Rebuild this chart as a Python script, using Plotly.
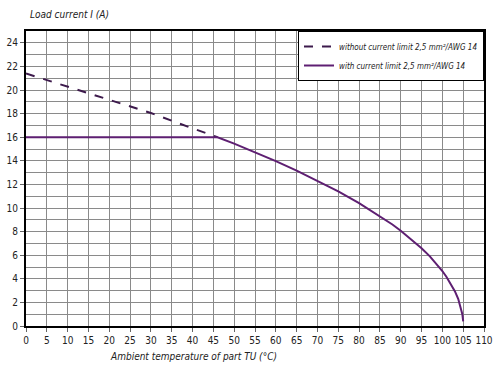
import plotly.graph_objects as go

# Data
temp_unlimited = [0, 10, 20, 30, 40, 46]
current_unlimited = [21.4, 20.3, 19.2, 18.05, 16.75, 16.0]

temp_limited = [0, 46, 50, 55, 60, 65, 70, 75, 80, 85, 88, 90, 92, 95, 97, 99, 100,
                101, 102, 103, 103.8, 104.4, 104.8, 105]
current_limited = [16.0, 16.0, 15.45, 14.73, 13.97, 13.17, 12.32, 11.41, 10.41, 9.32, 8.6,
                   8.07, 7.5, 6.59, 5.9, 5.1, 4.66, 4.15, 3.6, 2.95, 2.3, 1.6, 1.0, 0.4]

x_ticks = list(range(0, 111, 5))
y_ticks = list(range(0, 25, 2))

FONT = "DejaVu Sans Condensed, Liberation Sans Narrow, Arial Narrow, sans-serif"

fig = go.Figure()
fig.add_trace(go.Scatter(
    x=temp_unlimited, y=current_unlimited, mode="lines",
    name="<i>without current limit 2,5 mm²/AWG 14</i>",
    line=dict(color="#3d1a4c", width=2, dash="dash"),
))
fig.add_trace(go.Scatter(
    x=temp_limited, y=current_limited, mode="lines",
    name="<i>with current limit 2,5 mm²/AWG 14</i>",
    line=dict(color="#5e1f72", width=2),
))

fig.update_layout(
    width=500, height=375,
    margin=dict(l=26, r=16, t=31, b=49, autoexpand=False),
    paper_bgcolor="white", plot_bgcolor="white",
    font=dict(family=FONT, size=10, color="#222"),
    showlegend=True,
    legend=dict(x=1, xanchor="right", y=1, yanchor="top",
                bgcolor="white", bordercolor="black", borderwidth=1,
                font=dict(family=FONT, size=8, color="#222"),
                tracegroupgap=0, itemwidth=30),
    xaxis=dict(range=[0, 110], tickvals=x_ticks, ticktext=[str(v) for v in x_ticks],
               tickangle=0, automargin=False,
               showgrid=True, gridcolor="#8a8a8a", gridwidth=1,
               showline=True, linecolor="black", linewidth=2, mirror=True,
               ticks="outside", ticklen=4, tickcolor="#666", zeroline=False,
               tickfont=dict(family=FONT, size=10, color="#222")),
    yaxis=dict(range=[0, 25], tickvals=y_ticks, ticktext=[str(v) for v in y_ticks],
               automargin=False,
               showgrid=True, gridcolor="#8a8a8a", gridwidth=1,
               minor=dict(dtick=1, showgrid=True, gridcolor="#8a8a8a", gridwidth=1),
               showline=True, linecolor="black", linewidth=2, mirror=True,
               ticks="outside", ticklen=4, tickcolor="#666", zeroline=False,
               tickfont=dict(family=FONT, size=10, color="#222")),
    annotations=[
        dict(text="<i>Load current I (A)</i>", x=28, y=14, xref="paper", yref="paper",
             showarrow=False, xanchor="left", yanchor="middle",
             font=dict(family=FONT, size=10, color="#222")),
        dict(text="<i>Ambient temperature of part TU (°C)</i>", x=108, y=357,
             xref="paper", yref="paper", showarrow=False, xanchor="left", yanchor="middle",
             font=dict(family=FONT, size=10, color="#222")),
    ],
)

# convert pixel annotation positions into paper coordinates
pw = 500 - 26 - 16
ph = 375 - 31 - 49
for a in fig.layout.annotations:
    a.x = (a.x - 26) / pw
    a.y = 1 - (a.y - 31) / ph

fig.write_html("out.html", config={"displayModeBar": False},
               post_script="document.body.style.margin='0';")
